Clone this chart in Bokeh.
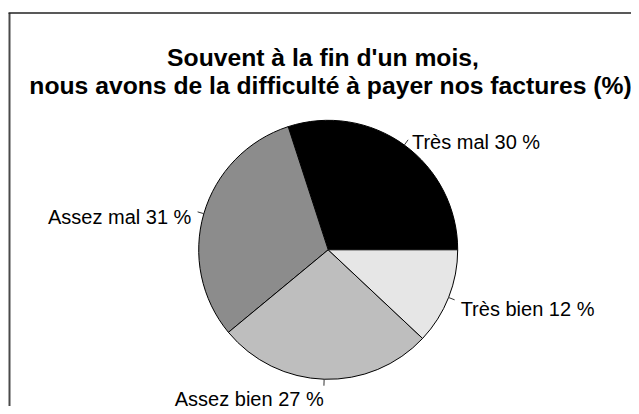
import numpy as np
from bokeh.plotting import figure
from bokeh.models import Range1d, ColumnDataSource
from bokeh.core.properties import value
from bokeh.embed import file_html
from bokeh.resources import INLINE

# ---- data ----
categories = ["Très mal", "Assez mal", "Assez bien", "Très bien"]
percents = [30, 31, 27, 12]
colors = ["#000000", "#8C8C8C", "#BEBEBE", "#E6E6E6"]
title_lines = ["Souvent à la fin d'un mois,",
               "nous avons de la difficulté à payer nos factures (%)"]

# ---- layout (pixel-based data space, y measured up from bottom) ----
W, H = 631, 406
CX, CY = 327.7, H - 249.3
R = 129.5
FONT = "Liberation Sans"

vals = np.array(percents, dtype=float)
frac = vals / vals.sum()
ends = np.cumsum(frac) * 2 * np.pi
starts = ends - frac * 2 * np.pi
mids = (starts + ends) / 2

p = figure(width=W, height=H, x_range=Range1d(0, W), y_range=Range1d(0, H),
           output_backend="svg", toolbar_location=None, min_border=0)
p.axis.visible = False
p.grid.visible = False
p.outline_line_color = None
p.background_fill_color = "white"
p.border_fill_color = "white"

# frame lines (left and top)
p.segment(x0=[9], y0=[H - 12.5], x1=[9], y1=[0], line_color="#4a4a4a", line_width=2)
p.segment(x0=[8], y0=[H - 12.5], x1=[W], y1=[H - 12.5], line_color="#222222", line_width=1.5)

src = ColumnDataSource(dict(start=starts, end=ends, color=colors, cat=categories))
p.wedge(x=CX, y=CY, radius=R, start_angle="start", end_angle="end",
        direction="anticlock", fill_color="color", line_color="#000000",
        line_width=1, source=src)

# tick marks
cosm, sinm = np.cos(mids), np.sin(mids)
p.segment(x0=CX + R * cosm, y0=CY + R * sinm,
          x1=CX + 1.05 * R * cosm, y1=CY + 1.05 * R * sinm,
          line_color="#333333", line_width=1)

# labels
labels = [f"{c} {v} %" for c, v in zip(categories, percents)]
lx = CX + 1.1 * R * cosm
ly = CY + 1.1 * R * sinm
align = ["left" if c > 0 else "right" for c in cosm]
lsrc = ColumnDataSource(dict(x=lx, y=ly, text=labels, align=align))
p.text(x="x", y="y", text="text", text_align="align", text_baseline="alphabetic",
       y_offset=7, text_font=value(FONT), text_font_size="20px",
       text_color="#000000", source=lsrc)

# title
p.text(x=[322.5], y=[H - 56.7], text=[title_lines[0]], text_align="center",
       text_baseline="alphabetic", text_font=value(FONT), text_font_size="24.7px",
       text_font_style="bold", text_color="#000000")
p.text(x=[330], y=[H - 85], text=[title_lines[1]], text_align="center",
       text_baseline="alphabetic", text_font=value(FONT), text_font_size="24.7px",
       text_font_style="bold", text_color="#000000")

open("out.html", "w").write(file_html(p, INLINE))
